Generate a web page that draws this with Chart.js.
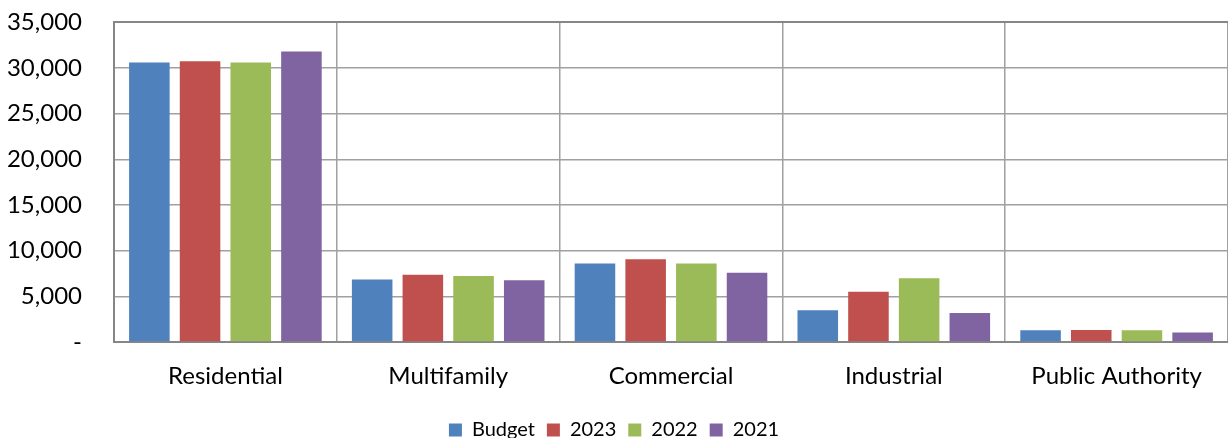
<!DOCTYPE html>
<html>
<head>
<meta charset="utf-8">
<script src="https://cdn.jsdelivr.net/npm/chart.js@4/dist/chart.umd.min.js"></script>
<style>
  html, body { margin: 0; padding: 0; background: #fff; }
  #wrap { width: 1228px; height: 438px; }
</style>
</head>
<body>
<div id="wrap"><canvas id="chart"></canvas></div>
<script>
// Data
const categories = ['Residential', 'Multifamily', 'Commercial', 'Industrial', 'Public Authority'];
const budget = [30600, 6850, 8600, 3470, 1280];
const y2023  = [30750, 7370, 9050, 5510, 1310];
const y2022  = [30600, 7220, 8600, 6970, 1280];
const y2021  = [31800, 6750, 7590, 3170, 1030];
const yTickLabels = ['-', '5,000', '10,000', '15,000', '20,000', '25,000', '30,000', '35,000'];

const FONT = 'Lato, Calibri, Carlito, sans-serif';

function makeSet(label, data, color) {
  return {
    label: label,
    data: data,
    backgroundColor: color,
    borderWidth: 0,
    categoryPercentage: 0.91,
    barPercentage: 0.8
  };
}

const ctx = document.getElementById('chart').getContext('2d');
const chart = new Chart(ctx, {
  type: 'bar',
  data: {
    labels: categories,
    datasets: [
      makeSet('Budget', budget, '#4F81BD'),
      makeSet('2023', y2023, '#C0504D'),
      makeSet('2022', y2022, '#9BBB59'),
      makeSet('2021', y2021, '#8064A2')
    ]
  },
  options: {
    responsive: true,
    maintainAspectRatio: false,
    animation: false,
    layout: {
      padding: { top: 0, right: 0, bottom: -12, left: 0 }
    },
    scales: {
      x: {
        grid: {
          offset: true,
          drawTicks: false,
          lineWidth: 1.5,
          color: (c) => c.index === categories.length ? 'rgba(0,0,0,0)' : '#a0a0a0'
        },
        border: { color: '#868686', width: 2 },
        ticks: {
          padding: 20,
          color: '#000',
          font: { family: FONT, size: 24 }
        },
        afterFit: (scale) => { scale.height = 66; }
      },
      y: {
        min: 0,
        max: 35000,
        ticks: {
          stepSize: 5000,
          padding: 8,
          color: '#000',
          font: { family: FONT, size: 24 },
          callback: (value, index) => yTickLabels[index]
        },
        grid: {
          drawTicks: true,
          tickLength: 24,
          tickColor: 'rgba(0,0,0,0)',
          lineWidth: (c) => c.tick && c.tick.value === 35000 ? 2 : 1.5,
          color: (c) => c.tick && c.tick.value === 35000 ? '#868686' : '#a0a0a0'
        },
        border: { color: '#868686', width: 2 },
        afterFit: (scale) => { scale.width = 114; }
      }
    },
    plugins: {
      legend: {
        position: 'bottom',
        labels: {
          boxWidth: 13,
          boxHeight: 13,
          padding: 12,
          color: '#000',
          font: { family: FONT, size: 20 }
        }
      },
      tooltip: { enabled: false }
    }
  }
});
</script>
</body>
</html>
